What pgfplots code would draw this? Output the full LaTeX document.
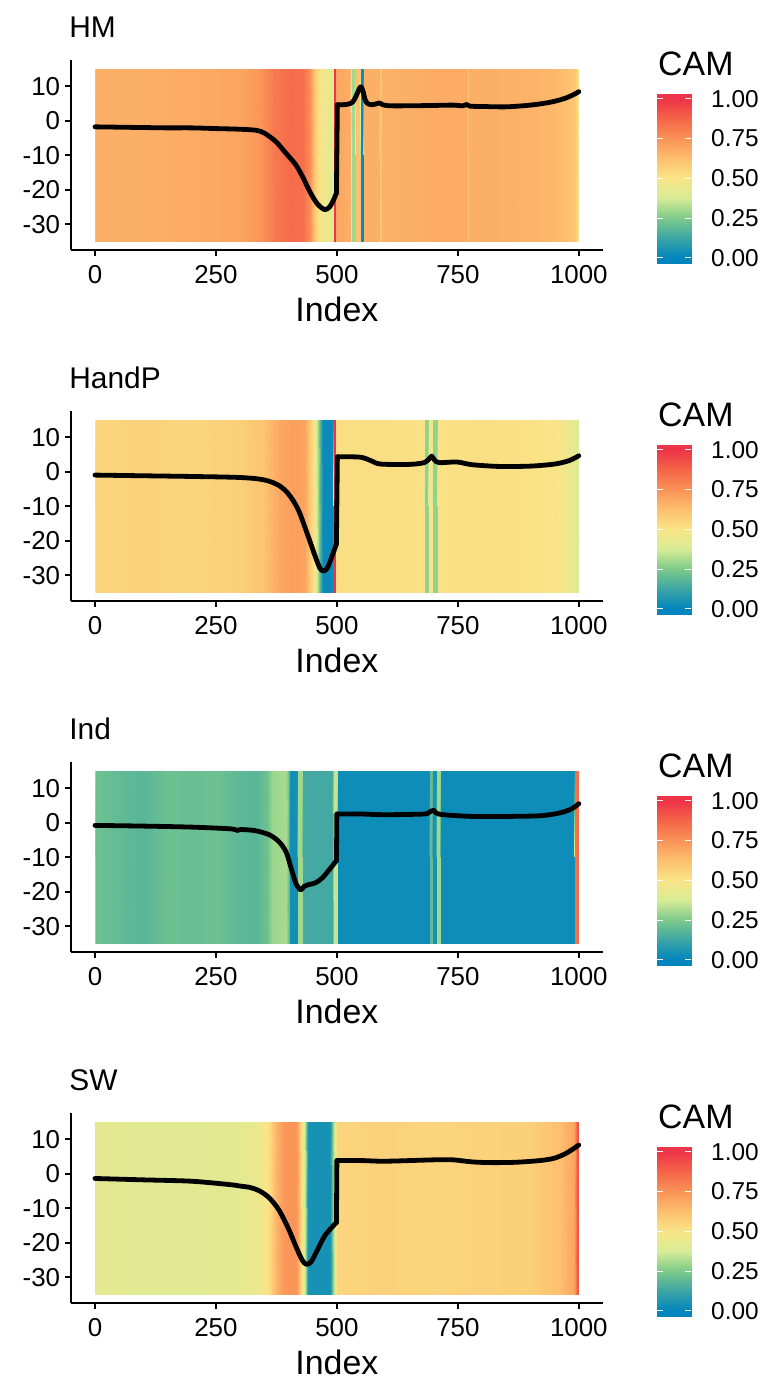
\documentclass[border=0pt]{standalone}
\usepackage{pgfplots}
\pgfplotsset{compat=1.18}
\usepackage{pgfplotstable}
\usepackage{fontspec}
\setmainfont{Liberation Sans}

\pgfplotsset{
  colormap={cam}{rgb255=(0,133,190) rgb255=(60,165,165) rgb255=(125,202,138) rgb255=(215,236,150) rgb255=(250,228,135) rgb255=(253,190,110) rgb255=(250,148,88) rgb255=(245,102,72) rgb255=(238,52,72)},
  panel/.style={
    scale only axis, width=532.2bp, height=189.75bp,
    xmin=-50, xmax=1050, ymin=-37.5, ymax=17.5,
    axis lines=left, axis line style={line width=2.2bp, -},
    tick align=outside, major tick length=5.5bp,
    tick style={black, line width=2bp},
    xtick={0,250,500,750,1000}, xticklabels={0,250,500,750,1000},
    ytick={-30,-20,-10,0,10}, yticklabels={-30,-20,-10,0,10},
    ticklabel style={font=\fontsize{26}{30}\selectfont, inner sep=0pt},
    xticklabel style={yshift=-10bp},
    yticklabel style={xshift=-5bp},
    xlabel={Index},
    xlabel style={font=\fontsize{34}{39}\selectfont, at={(axis description cs:0.5,-0.311)}, anchor=center, inner sep=0pt},
    title style={font=\fontsize{30}{35}\selectfont, at={(axis description cs:-0.003,1.089)}, anchor=base west, inner sep=0pt, yshift=0pt},
    colormap name=cam, point meta min=0, point meta max=1,
  },
  cbar/.style={
    scale only axis, width=34bp, height=169.5bp,
    xmin=0, xmax=1, ymin=-0.033, ymax=1.033,
    axis line style={draw=none}, axis on top,
    xtick=\empty, ytick={0,0.25,0.5,0.75,1}, yticklabels={0.00,0.25,0.50,0.75,1.00},
    ytick pos=both, yticklabel pos=right, tick align=inside, major tick length=6bp,
    tick style={white, line width=1bp},
    yticklabel style={font=\fontsize{24.5}{28}\selectfont, inner sep=0pt, anchor=west, xshift=20bp},
    title={CAM},
    title style={font=\fontsize{34}{39}\selectfont, at={(axis description cs:0.03,1.071)}, anchor=base west, inner sep=0pt, yshift=0pt},
    colormap name=cam, point meta min=0, point meta max=1,
  },
  camline/.style={black, line width=4.8bp, line join=round, line cap=round},
}

% colour bar
\pgfplotstableread{
x y c
0 -0.033 0
1 -0.033 0
0 0 0
1 0 0
0 0.125 0.125
1 0.125 0.125
0 0.25 0.25
1 0.25 0.25
0 0.375 0.375
1 0.375 0.375
0 0.5 0.5
1 0.5 0.5
0 0.625 0.625
1 0.625 0.625
0 0.75 0.75
1 0.75 0.75
0 0.875 0.875
1 0.875 0.875
0 1 1
1 1 1
0 1.033 1
1 1.033 1
}\cbartab

% ---------- HM ----------
\pgfplotstableread{
x y c
0 -35 0.62
3 -35 0.67
100 -35 0.67
200 -35 0.68
300 -35 0.70
340 -35 0.74
370 -35 0.82
400 -35 0.86
430 -35 0.85
445 -35 0.76
455 -35 0.58
468 -35 0.48
488 -35 0.42
493 -35 0.48
494.5 -35 1.0
497.5 -35 1.0
499 -35 0.70
528 -35 0.67
531 -35 0.30
537 -35 0.30
539 -35 0.62
548 -35 0.60
549.5 -35 0.02
553.5 -35 0.02
555 -35 0.67
587 -35 0.67
590 -35 0.58
594 -35 0.66
700 -35 0.68
768 -35 0.68
771 -35 0.60
774 -35 0.67
900 -35 0.66
950 -35 0.64
990 -35 0.60
997 -35 0.55
1000 -35 0.38
0 15 0.62
3 15 0.67
100 15 0.67
200 15 0.68
300 15 0.70
340 15 0.74
370 15 0.82
400 15 0.86
430 15 0.85
445 15 0.76
455 15 0.58
468 15 0.48
488 15 0.42
493 15 0.48
494.5 15 1.0
497.5 15 1.0
499 15 0.70
528 15 0.67
531 15 0.30
537 15 0.30
539 15 0.62
548 15 0.60
549.5 15 0.02
553.5 15 0.02
555 15 0.67
587 15 0.67
590 15 0.58
594 15 0.66
700 15 0.68
768 15 0.68
771 15 0.60
774 15 0.67
900 15 0.66
950 15 0.64
990 15 0.60
997 15 0.55
1000 15 0.38
}\heatHM

\pgfplotstableread{
x y
0 -1.8
50 -1.9
100 -2.0
150 -2.1
200 -2.1
250 -2.3
300 -2.5
333 -2.8
350 -3.6
374 -6.1
395 -9.5
415 -12.8
430 -16.5
444 -20.6
460 -24.2
475 -25.8
485 -25.0
493 -23.0
499 -21.0
501 4.6
520 4.7
532 5.3
540 7.2
546 9.2
550 9.8
554 8.5
558 6.2
563 5.0
572 4.6
580 4.8
588 5.1
595 4.6
610 4.3
650 4.3
700 4.4
740 4.5
760 4.3
768 4.7
775 4.2
800 4.1
850 4.0
900 4.5
940 5.3
970 6.4
990 7.6
1000 8.4
}\lineHM

% ---------- HandP ----------
\pgfplotstableread{
x y c
0 -35 0.50
3 -35 0.55
100 -35 0.56
200 -35 0.55
300 -35 0.57
350 -35 0.61
380 -35 0.69
410 -35 0.72
435 -35 0.70
445 -35 0.58
452 -35 0.50
460 -35 0.30
468 -35 0.12
472 -35 0.02
490 -35 0.02
492 -35 0.05
493 -35 1.0
497.5 -35 1.0
499 -35 0.52
600 -35 0.52
680 -35 0.51
682 -35 0.28
689 -35 0.28
691 -35 0.50
697 -35 0.50
699 -35 0.28
706 -35 0.28
708 -35 0.51
800 -35 0.52
900 -35 0.51
960 -35 0.49
990 -35 0.42
1000 -35 0.38
0 15 0.50
3 15 0.55
100 15 0.56
200 15 0.55
300 15 0.57
350 15 0.61
380 15 0.69
410 15 0.72
435 15 0.70
445 15 0.58
452 15 0.50
460 15 0.30
468 15 0.12
472 15 0.02
490 15 0.02
492 15 0.05
493 15 1.0
497.5 15 1.0
499 15 0.52
600 15 0.52
680 15 0.51
682 15 0.28
689 15 0.28
691 15 0.50
697 15 0.50
699 15 0.28
706 15 0.28
708 15 0.51
800 15 0.52
900 15 0.51
960 15 0.49
990 15 0.42
1000 15 0.38
}\heatHP

\pgfplotstableread{
x y
0 -1.0
100 -1.2
200 -1.4
300 -1.7
350 -2.4
380 -4.0
400 -6.5
420 -11.0
440 -18.5
455 -24.5
465 -28.0
472 -28.8
480 -28.0
490 -24.5
499 -21.0
501 4.3
548 4.2
570 3.2
590 2.2
650 2.1
680 2.6
690 3.6
696 4.5
702 3.3
712 2.6
748 2.8
780 2.0
837 1.5
900 1.6
950 2.2
980 3.2
1000 4.6
}\lineHP

% ---------- Ind ----------
\pgfplotstableread{
x y c
0 -35 0.30
3 -35 0.22
50 -35 0.20
100 -35 0.18
150 -35 0.22
200 -35 0.21
250 -35 0.22
300 -35 0.19
330 -35 0.18
355 -35 0.22
365 -35 0.29
395 -35 0.31
400 -35 0.20
403 -35 0.04
418 -35 0.04
420 -35 0.30
428 -35 0.30
430 -35 0.14
490 -35 0.14
494 -35 0.35
500 -35 0.35
502 -35 0.03
690 -35 0.03
692 -35 0.20
696 -35 0.20
698 -35 0.05
704 -35 0.05
706 -35 0.30
714 -35 0.30
716 -35 0.03
990 -35 0.03
993 -35 0.85
1000 -35 0.85
0 15 0.30
3 15 0.22
50 15 0.20
100 15 0.18
150 15 0.22
200 15 0.21
250 15 0.22
300 15 0.19
330 15 0.18
355 15 0.22
365 15 0.29
395 15 0.31
400 15 0.20
403 15 0.04
418 15 0.04
420 15 0.30
428 15 0.30
430 15 0.14
490 15 0.14
494 15 0.35
500 15 0.35
502 15 0.03
690 15 0.03
692 15 0.20
696 15 0.20
698 15 0.05
704 15 0.05
706 15 0.30
714 15 0.30
716 15 0.03
990 15 0.03
993 15 0.85
1000 15 0.85
}\heatIN

\pgfplotstableread{
x y
0 -0.8
100 -1.0
200 -1.3
280 -1.8
295 -2.3
300 -2.0
330 -2.3
360 -3.5
380 -5.5
395 -8.5
405 -13.0
415 -17.5
425 -19.5
432 -18.5
440 -18.0
455 -17.5
470 -16.0
485 -13.5
499 -11.0
500 2.5
550 2.5
600 2.3
680 2.5
690 3.0
700 3.6
705 2.8
720 2.3
780 1.8
850 1.8
920 2.0
960 2.8
985 4.0
1000 5.5
}\lineIN

% ---------- SW ----------
\pgfplotstableread{
x y c
0 -35 0.38
3 -35 0.42
100 -35 0.41
200 -35 0.41
300 -35 0.42
340 -35 0.45
360 -35 0.52
375 -35 0.65
390 -35 0.74
415 -35 0.75
422 -35 0.65
428 -35 0.48
434 -35 0.35
440 -35 0.05
485 -35 0.05
490 -35 0.20
495 -35 0.35
500 -35 0.55
600 -35 0.56
700 -35 0.55
800 -35 0.56
900 -35 0.57
960 -35 0.62
990 -35 0.70
997 -35 0.90
1000 -35 0.95
0 15 0.38
3 15 0.42
100 15 0.41
200 15 0.41
300 15 0.42
340 15 0.45
360 15 0.52
375 15 0.65
390 15 0.74
415 15 0.75
422 15 0.65
428 15 0.48
434 15 0.35
440 15 0.05
485 15 0.05
490 15 0.20
495 15 0.35
500 15 0.55
600 15 0.56
700 15 0.55
800 15 0.56
900 15 0.57
960 15 0.62
990 15 0.70
997 15 0.90
1000 15 0.95
}\heatSW

\pgfplotstableread{
x y
0 -1.4
100 -1.8
200 -2.2
280 -3.2
300 -3.6
320 -4.0
340 -5.0
360 -7.0
380 -10.5
400 -16.0
415 -21.0
428 -25.0
437 -26.3
447 -25.5
460 -22.0
475 -18.0
490 -15.5
499 -14.2
500 3.8
550 3.8
600 3.6
700 4.0
740 4.0
780 3.4
820 3.2
870 3.3
920 3.8
950 4.5
975 6.0
1000 8.3
}\lineSW

\newcommand\camcurve[1]{%
  \addplot[camline, smooth, tension=0.5, restrict x to domain=0:499.5] table[x=x,y=y]{#1};
  \addplot[camline, restrict x to domain=498.5:501.5] table[x=x,y=y]{#1};
  \addplot[camline, smooth, tension=0.5, restrict x to domain=499.8:1000] table[x=x,y=y]{#1};
}

\begin{document}
\begin{tikzpicture}
\path[use as bounding box] (0,0) rectangle (769bp,-1380bp);

% ===== HM =====
\begin{axis}[panel, at={(70.8bp,-250bp)}, anchor=south west, title={HM}]
\addplot[surf, shader=interp, mesh/rows=2, point meta=explicit] table[x=x,y=y,meta=c]{\heatHM};
\camcurve{\lineHM}
\end{axis}
\begin{axis}[cbar, at={(657bp,-263bp)}, anchor=south west]
\addplot[surf, shader=interp, mesh/cols=2, point meta=explicit] table[x=x,y=y,meta=c]{\cbartab};
\end{axis}

% ===== HandP =====
\begin{axis}[panel, at={(70.8bp,-601bp)}, anchor=south west, title={HandP}]
\addplot[surf, shader=interp, mesh/rows=2, point meta=explicit] table[x=x,y=y,meta=c]{\heatHP};
\camcurve{\lineHP}
\end{axis}
\begin{axis}[cbar, at={(657bp,-614bp)}, anchor=south west]
\addplot[surf, shader=interp, mesh/cols=2, point meta=explicit] table[x=x,y=y,meta=c]{\cbartab};
\end{axis}

% ===== Ind =====
\begin{axis}[panel, at={(70.8bp,-952bp)}, anchor=south west, title={Ind}]
\addplot[surf, shader=interp, mesh/rows=2, point meta=explicit] table[x=x,y=y,meta=c]{\heatIN};
\camcurve{\lineIN}
\end{axis}
\begin{axis}[cbar, at={(657bp,-965bp)}, anchor=south west]
\addplot[surf, shader=interp, mesh/cols=2, point meta=explicit] table[x=x,y=y,meta=c]{\cbartab};
\end{axis}

% ===== SW =====
\begin{axis}[panel, at={(70.8bp,-1303bp)}, anchor=south west, title={SW}]
\addplot[surf, shader=interp, mesh/rows=2, point meta=explicit] table[x=x,y=y,meta=c]{\heatSW};
\camcurve{\lineSW}
\end{axis}
\begin{axis}[cbar, at={(657bp,-1316bp)}, anchor=south west]
\addplot[surf, shader=interp, mesh/cols=2, point meta=explicit] table[x=x,y=y,meta=c]{\cbartab};
\end{axis}
\end{tikzpicture}
\end{document}
